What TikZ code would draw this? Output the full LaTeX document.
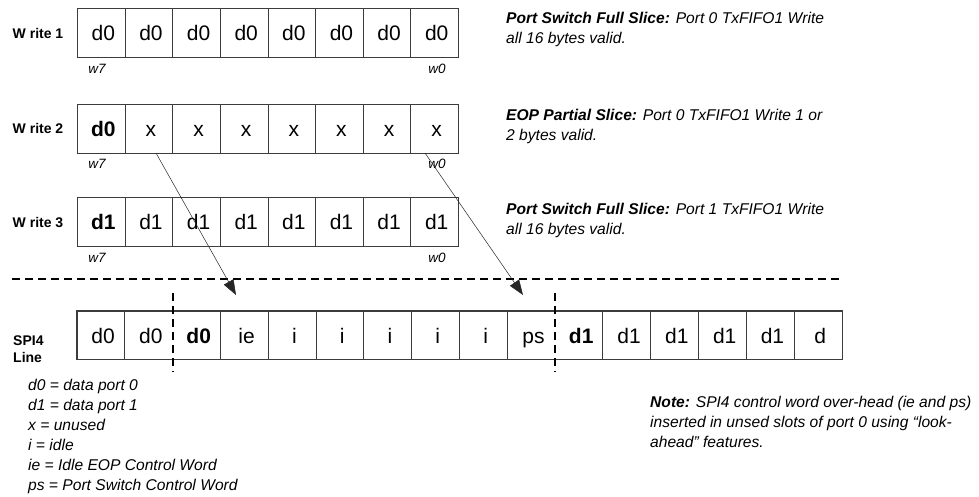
\documentclass[tikz,border=0pt]{standalone}
\usepackage{fontspec}
\setmainfont{Liberation Sans}
\usetikzlibrary{arrows.meta,calc}
\definecolor{boxgray}{HTML}{3C3C3C}
\begin{document}
\begin{tikzpicture}[x=1pt,y=-1pt,
  cell/.style={draw=boxgray, line width=1.1pt, minimum width=47.625pt,
    minimum height=49pt, inner sep=0pt, anchor=north west,
    text height=15pt, text depth=0pt,
    font=\fontsize{21}{24}\selectfont},
  spicell/.style={minimum width=47.8125pt, minimum height=48pt, inner sep=0pt,
    anchor=north west, text height=16pt, text depth=0pt,
    font=\fontsize{21}{24}\selectfont},
  rowlabel/.style={font=\fontsize{14}{17}\selectfont\bfseries, inner sep=0pt},
  wlabel/.style={font=\fontsize{13.5}{16}\selectfont\itshape, inner sep=0pt},
  desc/.style={font=\fontsize{15.6}{20}\selectfont\itshape, align=left,
    inner sep=0pt, anchor=north west},
  splitline/.style={line width=1.8pt, dash pattern=on 8pt off 5pt},
  move/.style={line width=0.5pt, draw=black!85,
    -{Triangle[length=15pt,width=11pt]}}
]
\useasboundingbox (0,0) rectangle (979,496);

% ---- three TxFIFO write slices ----
\foreach \t [count=\i from 0] in {d0,d0,d0,d0,d0,d0,d0,d0}
  \node[cell] (wa\i) at ({77+\i*47.625},8) {\hspace*{4pt}\t};
\foreach \t [count=\i from 0] in {\textbf{d0},x,x,x,x,x,x,x}
  \node[cell] (wb\i) at ({77+\i*47.625},104) {\hspace*{4pt}\t};
\foreach \t [count=\i from 0] in {\textbf{d1},d1,d1,d1,d1,d1,d1,d1}
  \node[cell] (wc\i) at ({77+\i*47.625},197) {\hspace*{4pt}\t};

\node[rowlabel] (la) at (38,33) {W rite 1};
\node[rowlabel] (lb) at (38,128) {W rite 2};
\node[rowlabel] (lc) at (38,222) {W rite 3};

\node[wlabel] (wa7) at (97,69) {w7};
\node[wlabel] (wa0) at (437,69) {w0};
\node[wlabel] (wb7) at (97,164) {w7};
\node[wlabel] (wb0) at (437,164) {w0};
\node[wlabel] (wc7) at (97,258) {w7};
\node[wlabel] (wc0) at (437,258) {w0};

% ---- slice descriptions ----
\node[desc] (da) at (506,12) {\textbf{Port Switch Full Slice:} Port 0 TxFIFO1 Write\\all 16 bytes valid.};
\node[desc] (db) at (506,109) {\textbf{EOP Partial Slice:} Port 0 TxFIFO1 Write 1 or\\2 bytes valid.};
\node[desc] (dc) at (506,203) {\textbf{Port Switch Full Slice:} Port 1 TxFIFO1 Write\\all 16 bytes valid.};

% ---- separator between FIFO writes and the SPI4 line ----
\coordinate (sepL) at (12,279);
\coordinate (sepR) at (842,279);
\draw[splitline] (sepL) -- (sepR);

% ---- SPI4 line ----
\foreach \t [count=\i from 0] in {d0,d0,\textbf{d0},ie,i,i,i,i,i,ps,\textbf{d1},d1,d1,d1,d1,d}
  \node[spicell] (s\i) at ({77+\i*47.8125},311) {\hspace*{4pt}\t};
\draw[boxgray, line width=1.1pt] (s0.north west) rectangle (s15.south east);
\foreach \i in {1,3,4,5,6,7,8,9,11,12,13,14,15}
  \draw[boxgray, line width=1.1pt] (s\i.north west) -- (s\i.south west);
\coordinate (cutAt) at ($(s2.north west)+(0,-18)$);
\coordinate (cutAb) at ($(s2.south west)+(0,13)$);
\coordinate (cutBt) at ($(s10.north west)+(0,-18)$);
\coordinate (cutBb) at ($(s10.south west)+(0,13)$);
\draw[splitline] (cutAt) -- (cutAb);
\draw[splitline] (cutBt) -- (cutBb);

\node[rowlabel, align=left, anchor=west] (spl) at (13,349) {SPI4\\Line};

% ---- control words moved into unused slots ----
\coordinate (mvAs) at (156,153);
\coordinate (mvAe) at (236,295);
\coordinate (mvBs) at (425,153);
\coordinate (mvBe) at (523,295);
\draw[move] (mvAs) -- (mvAe);
\draw[move] (mvBs) -- (mvBe);

% ---- legend and note ----
\node[desc] (leg) at (28,379) {d0 = data port 0\\d1 = data port 1\\x = unused\\i = idle\\ie = Idle EOP Control Word\\ps = Port Switch Control Word};
\node[desc] (note) at (650,396) {\textbf{Note:} SPI4 control word over-head (ie and ps)\\inserted in unsed slots of port 0 using “look-\\ahead” features.};
\end{tikzpicture}
\end{document}
